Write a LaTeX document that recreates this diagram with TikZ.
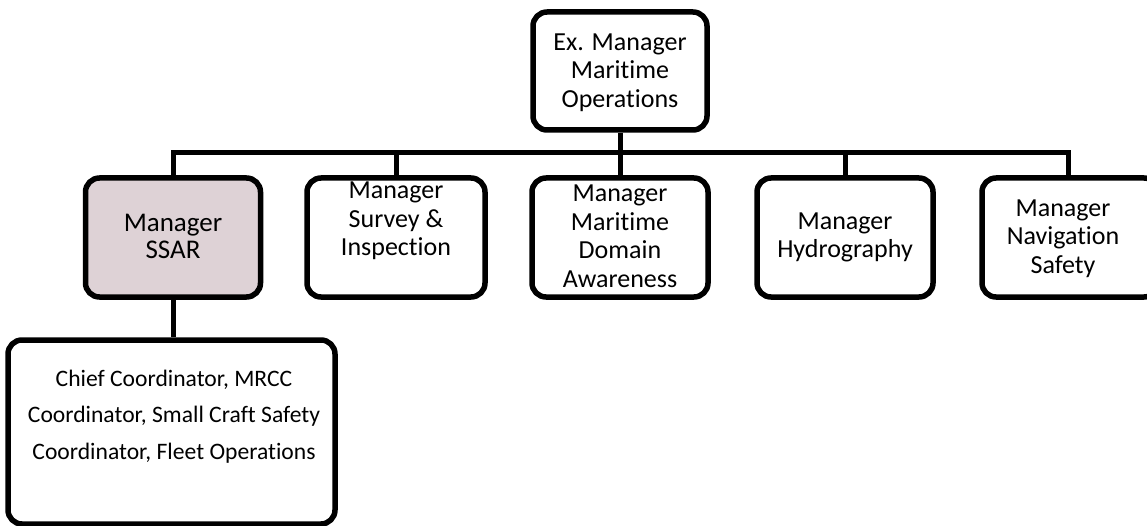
\documentclass[tikz,border=0pt]{standalone}
\usepackage{fontspec}
\setmainfont[RawFeature={-liga;-clig;-dlig;-rlig}]{Carlito}
\definecolor{ssarfill}{RGB}{222,210,214}
\tikzset{
  box/.style={draw=black, line width=5.5pt, rounded corners=14pt, fill=white, inner sep=0pt},
  txt/.style={align=center, inner sep=0pt, font=\fontsize{26}{28.5}\selectfont},
  small/.style={align=center, inner sep=0pt, font=\fontsize{23.6}{36.5}\selectfont},
  conn/.style={draw=black, line width=5pt}
}
\begin{document}
\begin{tikzpicture}[x=1pt,y=-1pt]
\useasboundingbox (0,0) rectangle (1147,526);
\clip (0,0) rectangle (1147,526);
% boxes
\node[box, minimum width=174pt, minimum height=118pt] (top) at (620,71) {};
\node[box, fill=ssarfill, minimum width=175pt, minimum height=119pt] (b1) at (173,237.5) {};
\node[box, minimum width=178pt, minimum height=119pt] (b2) at (396,237.5) {};
\node[box, minimum width=176pt, minimum height=119pt] (b3) at (620,237.5) {};
\node[box, minimum width=176pt, minimum height=119pt] (b4) at (845,237.5) {};
\node[box, minimum width=176pt, minimum height=119pt] (b5) at (1070,237.5) {};
\node[box, minimum width=327pt, minimum height=184pt] (sub) at (171.5,432) {};
% connectors
\coordinate (bus) at (620,153);
\coordinate (b5in) at (1068,178);
\draw[conn] (top.south) -- (bus);
\draw[conn] (b1.north) |- (bus) -| (b5in);
\draw[conn] (bus -| b2.north) -- (b2.north);
\draw[conn] (bus) -- (b3.north);
\draw[conn] (bus -| b4.north) -- (b4.north);
\draw[conn] (b1.south) -- (b1.south |- sub.north);
% texts
\node[txt] (toptxt) at (620,72.5) {Ex. Manager\\Maritime\\Operations};
\node[txt, font=\fontsize{27}{27.7}\selectfont] (b1txt) at (173,236.5) {Manager\\SSAR};
\node[txt] (b2txt) at (396,221) {Manager\\Survey \&\\Inspection};
\node[txt] (b3txt) at (620,236.5) {Manager\\Maritime\\Domain\\Awareness};
\node[txt] (b4txt) at (845,237.5) {Manager\\Hydrography};
\node[txt] (b5txt) at (1063,238.5) {Manager\\Navigation\\Safety};
\node[small] (subtxt) at (174,416.5) {Chief Coordinator, MRCC\\Coordinator, Small Craft Safety\\Coordinator, Fleet Operations};
\end{tikzpicture}
\end{document}
